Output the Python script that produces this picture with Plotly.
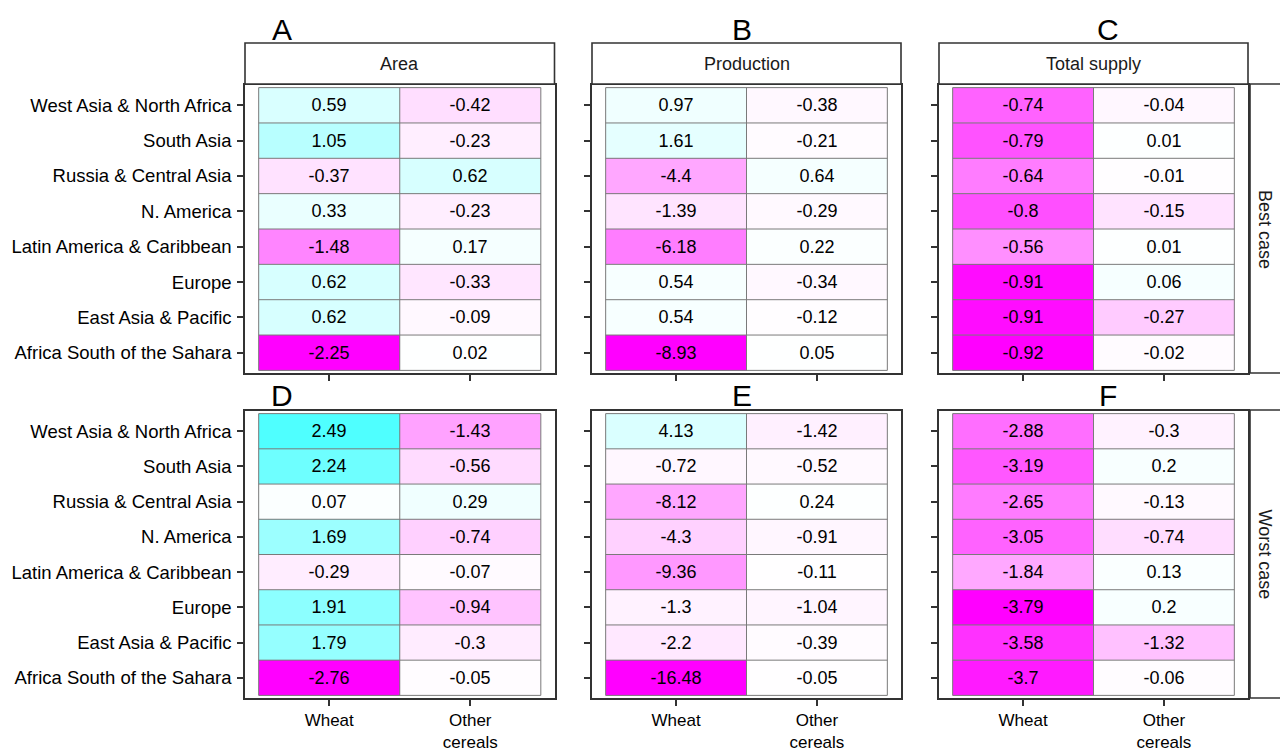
import plotly.graph_objects as go

# Categories (regions listed top to bottom as displayed)
regions = ["West Asia & North Africa", "South Asia", "Russia & Central Asia", "N. America",
           "Latin America & Caribbean", "Europe", "East Asia & Pacific", "Africa South of the Sahara"]
crops = ["Wheat", "Other cereals"]
crop_ticks = ["Wheat", "Other<br>cereals"]
variables = ["Area", "Production", "Total supply"]
scenarios = ["Best case", "Worst case"]
panel_letters = ["A", "B", "C", "D", "E", "F"]

# Percent changes, one list per crop, in region order above
area_best_wheat = [0.59, 1.05, -0.37, 0.33, -1.48, 0.62, 0.62, -2.25]
area_best_other = [-0.42, -0.23, 0.62, -0.23, 0.17, -0.33, -0.09, 0.02]
prod_best_wheat = [0.97, 1.61, -4.4, -1.39, -6.18, 0.54, 0.54, -8.93]
prod_best_other = [-0.38, -0.21, 0.64, -0.29, 0.22, -0.34, -0.12, 0.05]
supply_best_wheat = [-0.74, -0.79, -0.64, -0.8, -0.56, -0.91, -0.91, -0.92]
supply_best_other = [-0.04, 0.01, -0.01, -0.15, 0.01, 0.06, -0.27, -0.02]

area_worst_wheat = [2.49, 2.24, 0.07, 1.69, -0.29, 1.91, 1.79, -2.76]
area_worst_other = [-1.43, -0.56, 0.29, -0.74, -0.07, -0.94, -0.3, -0.05]
prod_worst_wheat = [4.13, -0.72, -8.12, -4.3, -9.36, -1.3, -2.2, -16.48]
prod_worst_other = [-1.42, -0.52, 0.24, -0.91, -0.11, -1.04, -0.39, -0.05]
supply_worst_wheat = [-2.88, -3.19, -2.65, -3.05, -1.84, -3.79, -3.58, -3.7]
supply_worst_other = [-0.3, 0.2, -0.13, -0.74, 0.13, 0.2, -1.32, -0.06]

panels = [
    (area_best_wheat, area_best_other),
    (prod_best_wheat, prod_best_other),
    (supply_best_wheat, supply_best_other),
    (area_worst_wheat, area_worst_other),
    (prod_worst_wheat, prod_worst_other),
    (supply_worst_wheat, supply_worst_other),
]


# ---- diverging colour ramp (magenta - white - cyan), interpolated in CIELAB ----
def _lin(c):
    c = c / 255.0
    return c / 12.92 if c <= 0.04045 else ((c + 0.055) / 1.055) ** 2.4


def _gam(c):
    c = max(0.0, min(1.0, c))
    return 12.92 * c if c <= 0.0031308 else 1.055 * c ** (1 / 2.4) - 0.055


WP = (0.95047, 1.0, 1.08883)


def rgb_to_lab(rgb):
    r, g, b = (_lin(v) for v in rgb)
    X = 0.4124 * r + 0.3576 * g + 0.1805 * b
    Y = 0.2126 * r + 0.7152 * g + 0.0722 * b
    Z = 0.0193 * r + 0.1192 * g + 0.9505 * b

    def f(t):
        return t ** (1 / 3) if t > 216 / 24389 else (24389 / 27 * t + 16) / 116

    fx, fy, fz = f(X / WP[0]), f(Y / WP[1]), f(Z / WP[2])
    return (116 * fy - 16, 500 * (fx - fy), 200 * (fy - fz))


def lab_to_rgb(lab):
    L, a, b = lab
    fy = (L + 16) / 116
    fx = fy + a / 500
    fz = fy - b / 200

    def finv(t):
        return t ** 3 if t ** 3 > 216 / 24389 else (116 * t - 16) / (24389 / 27)

    X, Y, Z = finv(fx) * WP[0], finv(fy) * WP[1], finv(fz) * WP[2]
    r = 3.2406 * X - 1.5372 * Y - 0.4986 * Z
    g = -0.9689 * X + 1.8758 * Y + 0.0415 * Z
    bb = 0.0557 * X - 0.2040 * Y + 1.0570 * Z
    return tuple(int(round(_gam(v) * 255)) for v in (r, g, bb))


LOW, MID, HIGH = (255, 0, 255), (255, 255, 255), (0, 255, 255)
lab_low, lab_mid, lab_high = rgb_to_lab(LOW), rgb_to_lab(MID), rgb_to_lab(HIGH)


def ramp(t_signed):
    end = lab_low if t_signed < 0 else lab_high
    t = abs(t_signed)
    lab = tuple(m + (e - m) * t for m, e in zip(lab_mid, end))
    return "rgb(%d,%d,%d)" % lab_to_rgb(lab)


N_STOPS = 60
colorscale = [[i / N_STOPS, ramp(2 * i / N_STOPS - 1)] for i in range(N_STOPS + 1)]


def fmt(v):
    return f"{v:g}"


# ---- layout geometry (pixels) ----
W, H = 1280, 749
col_px = [(245, 554.5), (592, 901), (939, 1248)]
row_px = [(85, 373), (411, 698)]
XR = [-0.597, 1.597]
YR = [-0.574, 7.574]
FONT = "Liberation Sans, Arial, sans-serif"
BORDER = "#333333"
TILE_LINE = "#7a7a7a"

fig = go.Figure()
layout = dict(
    width=W, height=H, margin=dict(l=0, r=0, t=0, b=0, autoexpand=False),
    paper_bgcolor="white", plot_bgcolor="white", showlegend=False,
    font=dict(family=FONT, size=18, color="black"),
)
shapes = []
annotations = []

y_idx = list(range(len(regions)))
y_labels = regions[::-1]  # bottom-to-top order on the axis

for k, (wheat, other) in enumerate(panels):
    r, c = divmod(k, 3)
    n = k + 1
    xa = "x" if n == 1 else f"x{n}"
    ya = "y" if n == 1 else f"y{n}"
    m = max(abs(v) for v in wheat + other)
    rows_bt = list(zip(wheat, other))[::-1]
    z = [[a, b] for a, b in rows_bt]
    txt = [[fmt(a), fmt(b)] for a, b in rows_bt]
    fig.add_trace(go.Heatmap(
        x=[0, 1], y=y_idx, z=z, text=txt, texttemplate="%{text}",
        textfont=dict(family=FONT, size=18, color="black"),
        colorscale=colorscale, zmin=-m, zmax=m, showscale=False,
        xaxis=xa, yaxis=ya, hoverinfo="skip",
    ))

    x0p, x1p = col_px[c]
    y0p, y1p = row_px[r]
    layout["xaxis" if n == 1 else f"xaxis{n}"] = dict(
        domain=[x0p / W, x1p / W], anchor=ya, range=XR,
        tickvals=[0, 1], ticktext=crop_ticks, showticklabels=(r == 1),
        ticks="outside", ticklen=6, tickwidth=1.5, tickcolor=BORDER,
        showline=True, mirror=True, linecolor=BORDER, linewidth=1.6,
        showgrid=False, zeroline=False, fixedrange=True, automargin=False,
        tickfont=dict(family=FONT, size=17, color="black"),
    )
    layout["yaxis" if n == 1 else f"yaxis{n}"] = dict(
        domain=[1 - y1p / H, 1 - y0p / H], anchor=xa, range=YR,
        tickvals=y_idx, ticktext=y_labels, showticklabels=(c == 0),
        ticks="outside", ticklen=6, tickwidth=1.5, tickcolor=BORDER,
        showline=True, mirror=True, linecolor=BORDER, linewidth=1.6,
        showgrid=False, zeroline=False, fixedrange=True, automargin=False,
        ticklabelstandoff=2,
        tickfont=dict(family=FONT, size=18.5, color="black"),
    )

    # tile outlines
    for xv in (-0.5, 0.5, 1.5):
        shapes.append(dict(type="line", xref=xa, yref=ya, x0=xv, x1=xv, y0=-0.5, y1=7.5,
                           line=dict(color=TILE_LINE, width=1), layer="above"))
    for j in range(len(regions) + 1):
        yv = j - 0.5
        shapes.append(dict(type="line", xref=xa, yref=ya, x0=-0.5, x1=1.5, y0=yv, y1=yv,
                           line=dict(color=TILE_LINE, width=1), layer="above"))

# top strips with variable names
for c, name in enumerate(variables):
    x0p, x1p = col_px[c]
    shapes.append(dict(type="rect", xref="paper", yref="paper",
                       x0=x0p / W, x1=x1p / W, y0=1 - 84 / H, y1=1 - 43 / H,
                       fillcolor="white", line=dict(color=BORDER, width=1.6)))
    annotations.append(dict(xref="paper", yref="paper", x=(x0p + x1p) / 2 / W, y=1 - 64 / H,
                            text=name, showarrow=False, xanchor="center", yanchor="middle",
                            font=dict(family=FONT, size=18, color="#1a1a1a")))

# right strips with scenario names
for r, name in enumerate(scenarios):
    y0p, y1p = row_px[r]
    shapes.append(dict(type="rect", xref="paper", yref="paper",
                       x0=1250 / W, x1=1.05, y0=1 - y1p / H, y1=1 - (y0p - 1) / H,
                       fillcolor="white", line=dict(color=BORDER, width=1.6)))
    annotations.append(dict(xref="paper", yref="paper", x=1265 / W, y=1 - (y0p + y1p) / 2 / H,
                            text=name, textangle=90, showarrow=False,
                            xanchor="center", yanchor="middle",
                            font=dict(family=FONT, size=18, color="#1a1a1a")))

# panel letters
letter_x = [282, 742, 1108]
letter_y = [29, 395]
for k, letter in enumerate(panel_letters):
    r, c = divmod(k, 3)
    annotations.append(dict(xref="paper", yref="paper", x=letter_x[c] / W, y=1 - letter_y[r] / H,
                            text=letter, showarrow=False, xanchor="center", yanchor="middle",
                            font=dict(family=FONT, size=30, color="black")))

layout["shapes"] = shapes
layout["annotations"] = annotations
fig.update_layout(**layout)
fig.write_html("out.html")
